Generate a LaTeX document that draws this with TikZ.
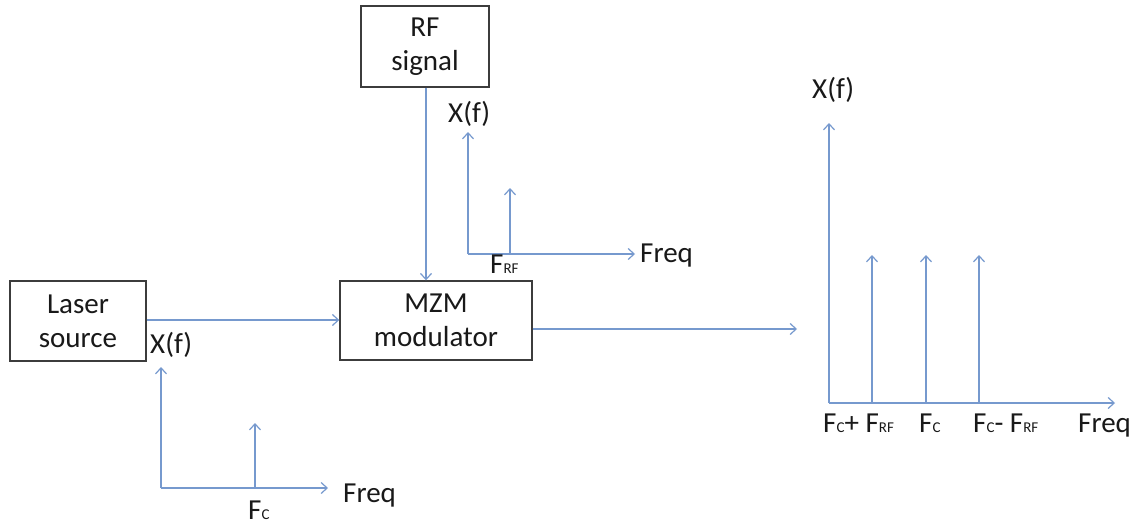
\documentclass[tikz,border=0pt]{standalone}
\usepackage{fontspec}
\setmainfont{Carlito}
\usetikzlibrary{arrows.meta}
\definecolor{axisblue}{RGB}{118,153,206}
\definecolor{boxline}{RGB}{60,60,60}
\definecolor{txt}{RGB}{25,25,25}
\newcommand{\lbl}{\fontsize{29}{34}\selectfont}
\newcommand{\sbs}[1]{{\fontsize{15}{15}\selectfont #1}}
\begin{document}
\begin{tikzpicture}[x=1pt,y=-1pt,
  blockbox/.style={draw=boxline,line width=1.4pt,text=txt,align=center,inner sep=0pt,font=\lbl},
  conn/.style={draw=axisblue,line width=1.2pt,-{Straight Barb[length=6pt,width=11pt]}},
  tl/.style={text=txt,font=\lbl,inner sep=0pt,anchor=base west}]
\useasboundingbox[fill=white] (0,0) rectangle (1147,527);
% boxes
\node[blockbox,minimum width=136pt,minimum height=80pt] (laser) at (78,321) {Laser\\source};
\node[blockbox,minimum width=192pt,minimum height=79pt] (mzm) at (436,320.5) {MZM\\modulator};
\node[blockbox,minimum width=128pt,minimum height=81pt] (rf) at (425,46.5) {RF\\signal};
% connectors
\coordinate (outend) at (797,329);
\draw[conn] (laser.east |- 0,320) -- (mzm.west |- 0,320);
\draw[conn] (rf.south -| 426,0) -- (mzm.north -| 426,0);
\draw[conn] (mzm.east |- outend) -- (outend);
% spectrum 1 (laser)
\coordinate (o1) at (161,488);
\coordinate (y1) at (161,367);
\coordinate (x1) at (328,488);
\coordinate (s1b) at (255,488);
\coordinate (s1t) at (255,423);
\draw[conn] (o1) -- (y1);
\draw[conn] (o1) -- (x1);
\draw[conn] (s1b) -- (s1t);
\node[tl] (xf1) at (150,353) {X(f)};
\node[tl] (fr1) at (343,502) {Freq};
\node[tl] (fc1) at (248,519) {F\sbs{C}};
% spectrum 2 (RF)
\coordinate (o2) at (468,254);
\coordinate (y2) at (468,132);
\coordinate (x2) at (635,254);
\coordinate (s2b) at (510,254);
\coordinate (s2t) at (510,188);
\draw[conn] (o2) -- (y2);
\draw[conn] (o2) -- (x2);
\draw[conn] (s2b) -- (s2t);
\node[tl] (xf2) at (448,122) {X(f)};
\node[tl] (fr2) at (640,262) {Freq};
\node[tl] (frf2) at (490,273) {F\sbs{RF}};
% spectrum 3 (output)
\coordinate (o3) at (829,403);
\coordinate (y3) at (829,123);
\coordinate (x3) at (1115,403);
\draw[conn] (o3) -- (y3);
\draw[conn] (o3) -- (x3);
\foreach \xx/\nm in {872/a,926/b,979/c}{
  \coordinate (s3\nm b) at (\xx,403);
  \coordinate (s3\nm t) at (\xx,255);
  \draw[conn] (s3\nm b) -- (s3\nm t);
}
\node[tl] (xf3) at (812,98) {X(f)};
\node[tl] (l3a) at (823,432) {F\sbs{C}+ F\sbs{RF}};
\node[tl] (l3b) at (919,432) {F\sbs{C}};
\node[tl] (l3c) at (973,432) {F\sbs{C}- F\sbs{RF}};
\node[tl] (fr3) at (1078,432) {Freq};
\end{tikzpicture}
\end{document}
